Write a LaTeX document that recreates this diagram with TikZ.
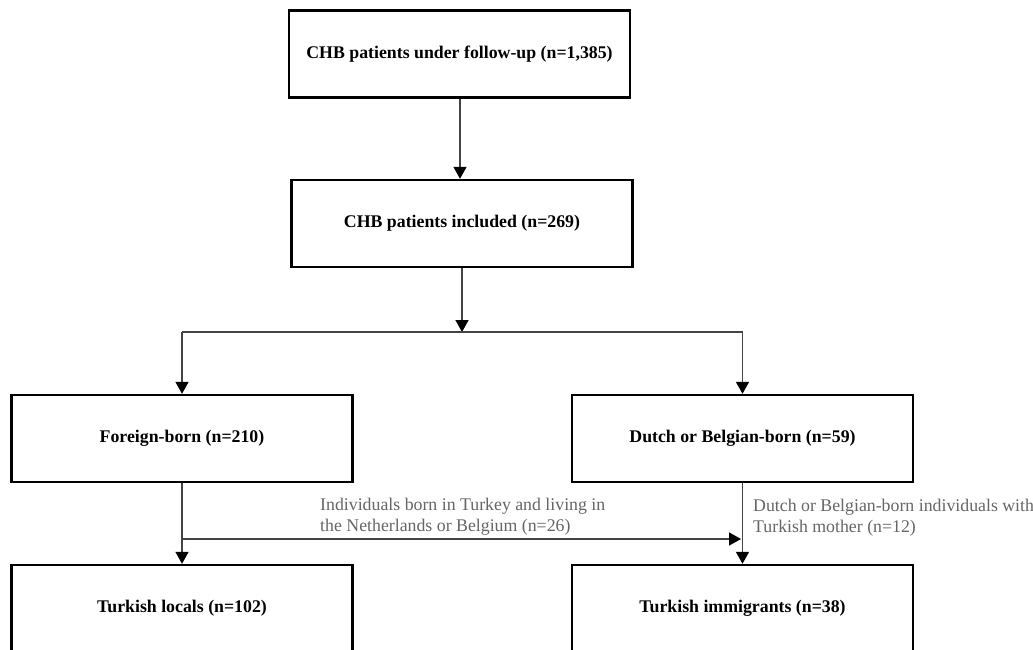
\documentclass[tikz,border=0pt]{standalone}
\usepackage{fontspec}
\setmainfont{Liberation Serif}
\usetikzlibrary{arrows.meta}
\definecolor{linegrey}{HTML}{444444}
\definecolor{labelgrey}{HTML}{666666}
\tikzset{
  box/.style={draw=black, line width=2.4pt, minimum width=341pt, minimum height=87pt, inner sep=0pt,
    font=\fontsize{17.8}{21}\selectfont\bfseries, fill=white},
  conn/.style={draw=linegrey, line width=1.5pt},
  arr/.style={conn, -{Triangle[length=12pt,width=13pt,color=black]}},
  lbl/.style={text=labelgrey, font=\fontsize{17.8}{21}\selectfont, align=left, inner sep=0pt, anchor=west}
}
\begin{document}
\begin{tikzpicture}[x=1pt,y=-1pt]
\useasboundingbox (0,0) rectangle (1033,650);
\clip (0,0) rectangle (1033,650);
\fill[white] (0,0) rectangle (1033,650);
\node[box] (top) at (459.5,54) {CHB patients under follow-up (n=1,385)};
\node[box] (inc) at (462,223.5) {CHB patients included (n=269)};
\node[box] (foreign) at (182,438.5) {Foreign-born (n=210)};
\node[box] (dutch) at (742.5,438.5) {Dutch or Belgian-born (n=59)};
\node[box] (locals) at (182,608.5) {Turkish locals (n=102)};
\node[box] (immig) at (742.5,608.5) {Turkish immigrants (n=38)};
\coordinate (split) at (462,332);
\coordinate (splitL) at (foreign.north |- split);
\coordinate (splitR) at (dutch.north |- split);
\coordinate (crossL) at (182,539);
\coordinate (crossR) at (741,539);
\draw[arr] (top.south -| 460,0) -- (460,0 |- inc.north);
\draw[arr] (inc.south -| split) -- (split);
\draw[conn] (splitL) -- (splitR);
\draw[arr] (splitL) -- (foreign.north);
\draw[arr] (splitR) -- (dutch.north);
\draw[arr] (foreign.south) -- (locals.north);
\draw[arr] (dutch.south) -- (immig.north);
\draw[arr] (crossL) -- (crossR);
\node[lbl] (lab1) at (320,517) {Individuals born in Turkey and living in\\the Netherlands or Belgium (n=26)};
\node[lbl] (lab2) at (753,518) {Dutch or Belgian-born individuals with\\Turkish mother (n=12)};
\end{tikzpicture}
\end{document}
